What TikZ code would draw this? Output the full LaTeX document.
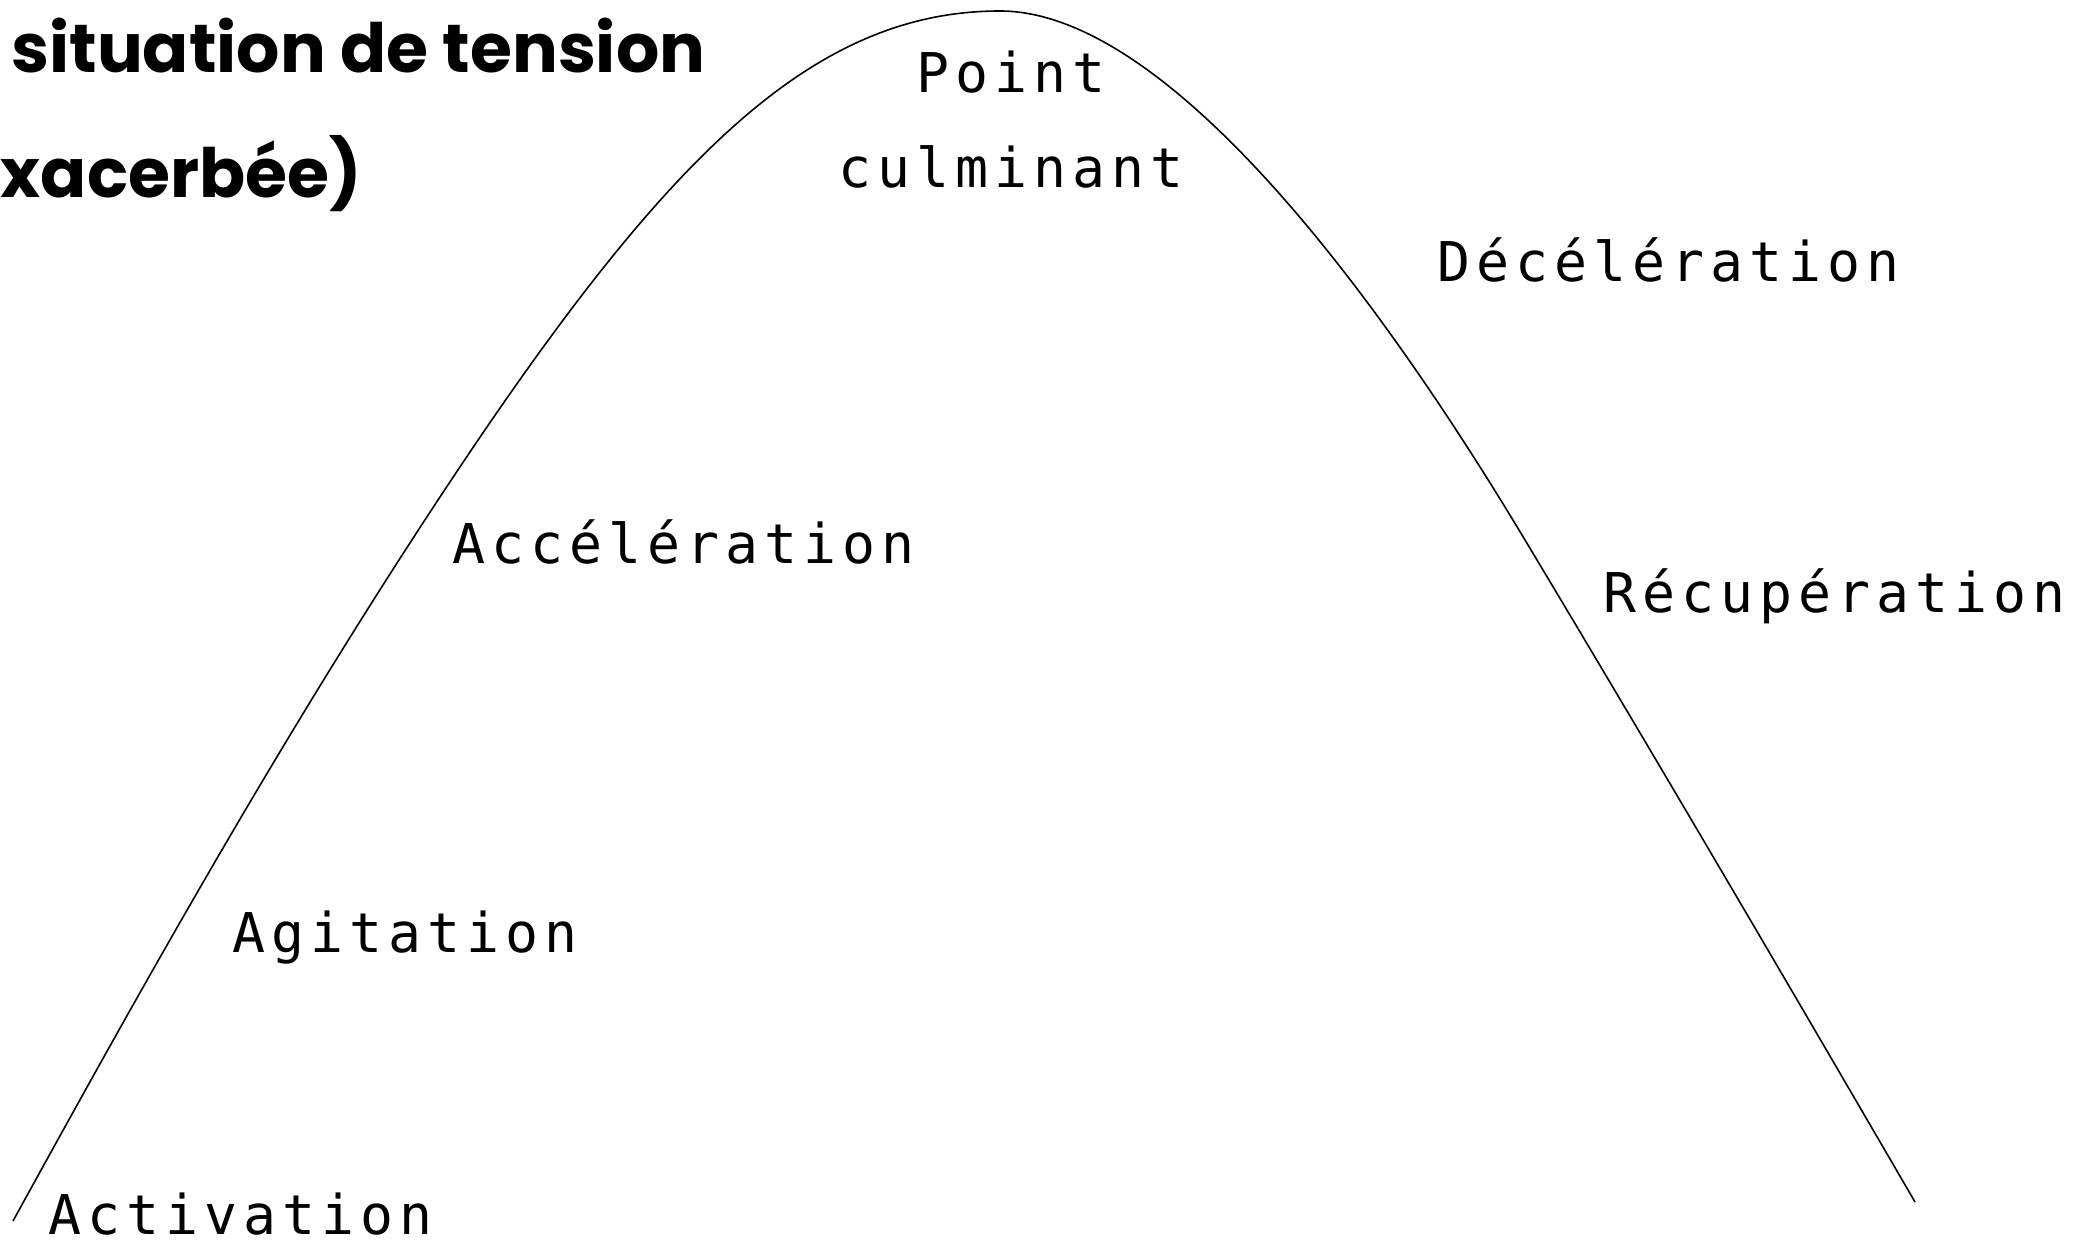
\documentclass[tikz,border=0pt]{standalone}
\usepackage{fontspec}
\newfontfamily\phasefont[LetterSpace=11]{DejaVu Sans Mono}
\newfontfamily\titrefont{Poppins}
\tikzset{
  phase/.style={font=\phasefont\fontsize{27.4}{47.5}\selectfont, inner sep=0pt, anchor=base west},
  titre/.style={font=\titrefont\bfseries\fontsize{34}{40}\selectfont, inner sep=0pt},
  courbe/.style={line width=0.8pt, line join=round}
}
\begin{document}
\begin{tikzpicture}[x=0.5pt, y=-0.5pt]
\useasboundingbox (0,0) rectangle (2075,1240);
% courbe de la crise
\draw[courbe] (13,1221) .. controls (145,981) and (280,740) .. (438,500)
  .. controls (662,160) and (810,11) .. (1000,11)
  .. controls (1150,11) and (1345,240) .. (1525,540)
  .. controls (1657,760) and (1787,982) .. (1915,1202);
% titre
\node[titre, anchor=base west] (titre) at (11,73) {situation de tension};
\node[titre, anchor=base east] (suite) at (362,198) {xacerbée)};
% phases
\node[phase] (act) at (48,1234) {Activation};
\node[phase] (agi) at (232,952) {Agitation};
\node[phase] (acc) at (452,563) {Accélération};
\node[phase, anchor=base, align=center] (cul) at (1011,188) {Point\\culminant};
\node[phase] (dec) at (1437,282) {Décélération};
\node[phase] (rec) at (1603,612) {Récupération};
\end{tikzpicture}
\end{document}
